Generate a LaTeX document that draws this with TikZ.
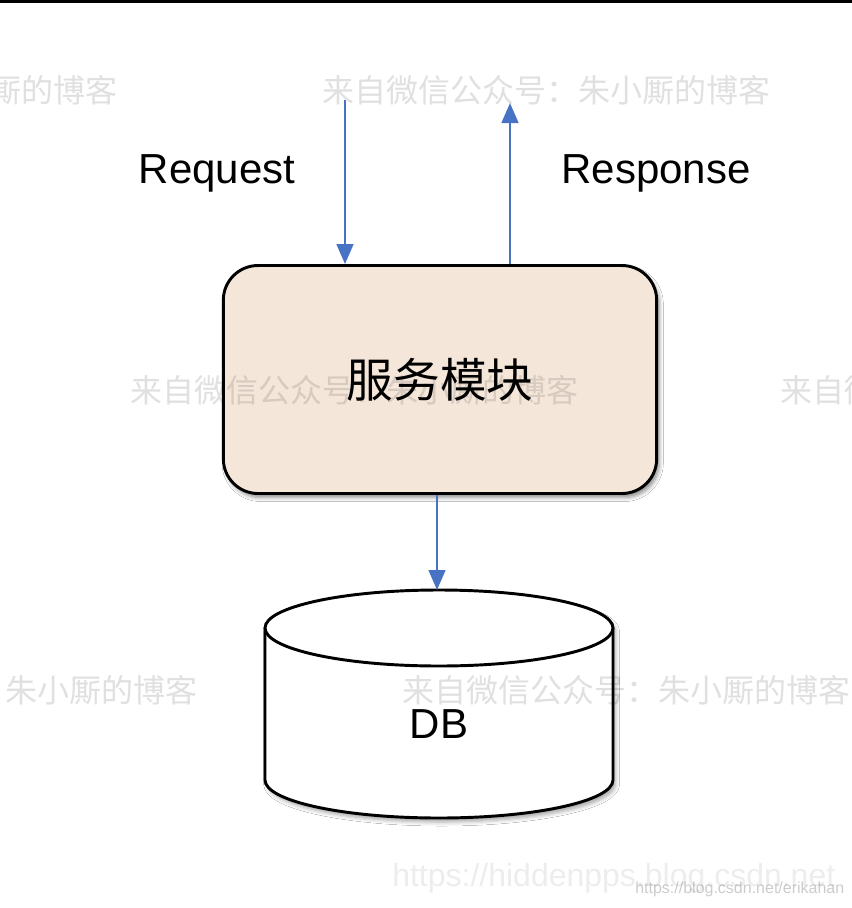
\documentclass[tikz,border=0pt]{standalone}
\usepackage{fontspec}
\setmainfont{Liberation Sans}
\newfontfamily\cjk{Noto Sans CJK SC}
\usetikzlibrary{arrows.meta, shadows.blur}
\definecolor{arrowblue}{RGB}{72,114,196}
\definecolor{boxfill}{RGB}{245,230,218}
\begin{document}
\begin{tikzpicture}[x=0.75pt, y=-0.75pt,
  arr/.style={draw=arrowblue, line width=1.9pt, -{Triangle[width=12.5pt,length=15pt]}},
  lbl/.style={font=\fontsize{31.5}{36}\selectfont, inner sep=0},
  service/.style={draw=black, line width=2.2pt, fill=boxfill, rounded corners=26pt,
    minimum width=325pt, minimum height=171pt, inner sep=0,
    font=\cjk\fontsize{35}{40}\selectfont,
    blur shadow={shadow xshift=2pt, shadow yshift=-3pt, shadow blur radius=3pt, shadow opacity=45}},
  cyl/.style={draw=black, line width=2.2pt},
  wm/.style={font=\cjk\fontsize{24}{28}\selectfont, text=black, text opacity=0.12, inner sep=0},
  wmurl/.style={font=\fontsize{24}{28}\selectfont, text=black, text opacity=0.07, inner sep=0},
  wmsmall/.style={font=\fontsize{12}{14}\selectfont, text=black, text opacity=0.2, inner sep=0}]
\clip (0,0) rectangle (852,908);
\fill[white] (0,0) rectangle (852,908);
% top border line of the screenshot
\fill[black] (0,0) rectangle (852,2.5);

% labels
\node[lbl] (req) at (217,173) {Request};
\node[lbl] (res) at (656,173) {Response};

% service box
\node[service] (svc) at (440,379.5) {服务模块};

% database cylinder
\path[fill=white, blur shadow={shadow xshift=2pt, shadow yshift=-3pt, shadow blur radius=3pt, shadow opacity=35}]
  (265,628) -- (265,780) arc[start angle=180, end angle=0, x radius=174, y radius=38]
  -- (613,628) arc[start angle=0, end angle=-180, x radius=174, y radius=38] -- cycle;
\draw[cyl] (265,628) -- (265,780) arc[start angle=180, end angle=0, x radius=174, y radius=38] -- (613,628);
\draw[cyl] (439,628) ellipse[x radius=174, y radius=38];
\coordinate (dbtop) at (437,590);
\node[lbl] (db) at (439,724) {DB};

% connectors
\coordinate (reqs) at (345,100);
\coordinate (rese) at (510,103);
\draw[arr] (reqs) -- (reqs |- svc.north);
\draw[arr] (rese |- svc.north) -- (rese);
\draw[arr] (dbtop |- svc.south) -- (dbtop);

% watermarks
\node[wm, anchor=east] (w1) at (118,90) {来自微信公众号：朱小厮的博客};
\node[wm, anchor=west] (w2) at (322,90) {来自微信公众号：朱小厮的博客};
\node[wm, anchor=west] (w3) at (130,390) {来自微信公众号：朱小厮的博客};
\node[wm, anchor=west] (w4) at (780,390) {来自微信公众号：朱小厮的博客};
\node[wm, anchor=east] (w5) at (198,690) {来自微信公众号：朱小厮的博客};
\node[wm, anchor=west] (w6) at (402,690) {来自微信公众号：朱小厮的博客};
\node[wmurl, anchor=west] (w7) at (392,878) {https://hiddenpps.blog.csdn.net};
\node[wmsmall, anchor=west] (w8) at (635,889) {https://blog.csdn.net/erikahan};
\end{tikzpicture}
\end{document}
